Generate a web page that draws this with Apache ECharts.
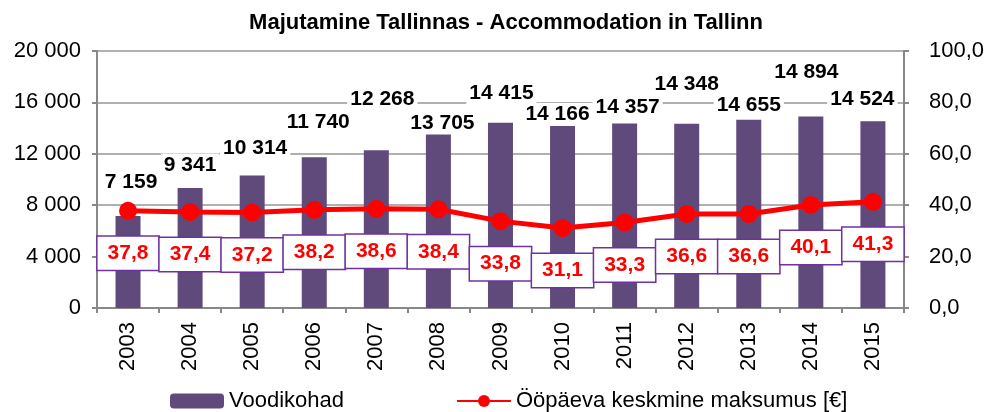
<!DOCTYPE html>
<html>
<head>
<meta charset="utf-8">
<title>Majutamine Tallinnas</title>
<script src="https://cdn.jsdelivr.net/npm/echarts@6/dist/echarts.min.js"></script>
<style>
  html, body { margin: 0; padding: 0; background: #fff; }
  #chart { width: 987px; height: 412px; }
</style>
</head>
<body>
<div id="chart"></div>
<script>
// Years on the category axis
const years = ['2003', '2004', '2005', '2006', '2007', '2008', '2009',
               '2010', '2011', '2012', '2013', '2014', '2015'];
// Bed places (left axis)
const bedPlaces = [7159, 9341, 10314, 11740, 12268, 13705, 14415,
                   14166, 14357, 14348, 14655, 14894, 14524];
// Average price per night in euros (right axis)
const avgPrice = [37.8, 37.4, 37.2, 38.2, 38.6, 38.4, 33.8,
                  31.1, 33.3, 36.6, 36.6, 40.1, 41.3];
// Axis ranges
const leftAxisMax = 20000, leftAxisStep = 4000;
const rightAxisMax = 100, rightAxisStep = 20;

// Hand-placed nudges for the bed-place labels [dx, dy]
const barLabelShift = [[3, -22.5], [0, -11.5], [3, -16], [4, -23.5], [6, -39.5],
                       [4, 2.5], [1, -18.5], [-5, 0], [3, -4.5], [0, -27.5],
                       [0, -2.5], [-4.5, -32.5], [-10.5, -10.5]];

const FONT = '"Liberation Sans", Arial, sans-serif';
const fmtThousands = v => String(v).replace(/\B(?=(\d{3})+(?!\d))/g, ' ');
const fmtDecimal = v => Number(v).toFixed(1).replace('.', ',');

const chart = echarts.init(document.getElementById('chart'), null, { renderer: 'canvas' });

const barData = bedPlaces.map((v, i) => ({
  value: v,
  label: { offset: barLabelShift[i] }
}));

chart.setOption({
  animation: false,
  backgroundColor: '#ffffff',
  textStyle: { fontFamily: FONT },
  title: {
    text: 'Majutamine Tallinnas - Accommodation in Tallinn',
    left: 506,
    textAlign: 'center',
    top: 12,
    padding: 0,
    textStyle: { fontFamily: FONT, fontSize: 22, fontWeight: 'bold', color: '#000' }
  },
  legend: {
    left: 170,
    top: 390,
    padding: 0,
    itemGap: 112,
    itemWidth: 54,
    itemHeight: 15,
    textStyle: { fontFamily: FONT, fontSize: 22, color: '#000' },
    data: ['Voodikohad', 'Ööpäeva keskmine maksumus [€]']
  },
  grid: { left: 97, right: 79, top: 51, bottom: 104, containLabel: false },
  xAxis: {
    type: 'category',
    data: years,
    boundaryGap: true,
    axisLine: { show: true, lineStyle: { color: '#888888', width: 2 } },
    axisTick: { show: true, alignWithLabel: false, length: 5, lineStyle: { color: '#888888', width: 2 } },
    axisLabel: { rotate: 90, margin: 14, fontFamily: FONT, fontSize: 22, color: '#000' },
    splitLine: { show: false }
  },
  yAxis: [
    {
      type: 'value',
      min: 0, max: leftAxisMax, interval: leftAxisStep,
      axisLine: { show: true, lineStyle: { color: '#888888', width: 2 } },
      axisTick: { show: true, length: 5, lineStyle: { color: '#888888', width: 2 } },
      axisLabel: { margin: 16, fontFamily: FONT, fontSize: 22, color: '#000', formatter: fmtThousands },
      splitLine: { show: true, lineStyle: { color: '#969696', width: 1.5 } }
    },
    {
      type: 'value',
      min: 0, max: rightAxisMax, interval: rightAxisStep,
      position: 'right',
      axisLine: { show: true, lineStyle: { color: '#888888', width: 2 } },
      axisTick: { show: true, length: 5, lineStyle: { color: '#888888', width: 2 } },
      axisLabel: { margin: 25, fontFamily: FONT, fontSize: 22, color: '#000', formatter: fmtDecimal },
      splitLine: { show: false }
    }
  ],
  series: [
    {
      name: 'Voodikohad',
      type: 'bar',
      yAxisIndex: 0,
      barWidth: 25,
      data: barData,
      itemStyle: { color: '#604A7B' },
      z: 2,
      label: {
        show: true,
        position: 'top',
        distance: 0,
        formatter: p => fmtThousands(p.value),
        fontFamily: FONT,
        fontSize: 21,
        fontWeight: 'bold',
        color: '#000',
        lineHeight: 21,
        backgroundColor: '#ffffff',
        padding: [1, 3]
      }
    },
    {
      name: 'Ööpäeva keskmine maksumus [€]',
      type: 'line',
      yAxisIndex: 1,
      data: avgPrice,
      symbol: 'circle',
      symbolSize: 18,
      itemStyle: { color: '#FF0000' },
      lineStyle: { color: '#FF0000', width: 5 },
      z: 5,
      label: {
        show: true,
        position: 'bottom',
        distance: 17,
        formatter: p => fmtDecimal(p.value),
        fontFamily: FONT,
        fontSize: 21,
        fontWeight: 'bold',
        color: '#FF0000',
        lineHeight: 21,
        backgroundColor: '#ffffff',
        borderColor: '#7030A0',
        borderWidth: 1.5,
        padding: [6, 10]
      }
    }
  ]
});
</script>
</body>
</html>
